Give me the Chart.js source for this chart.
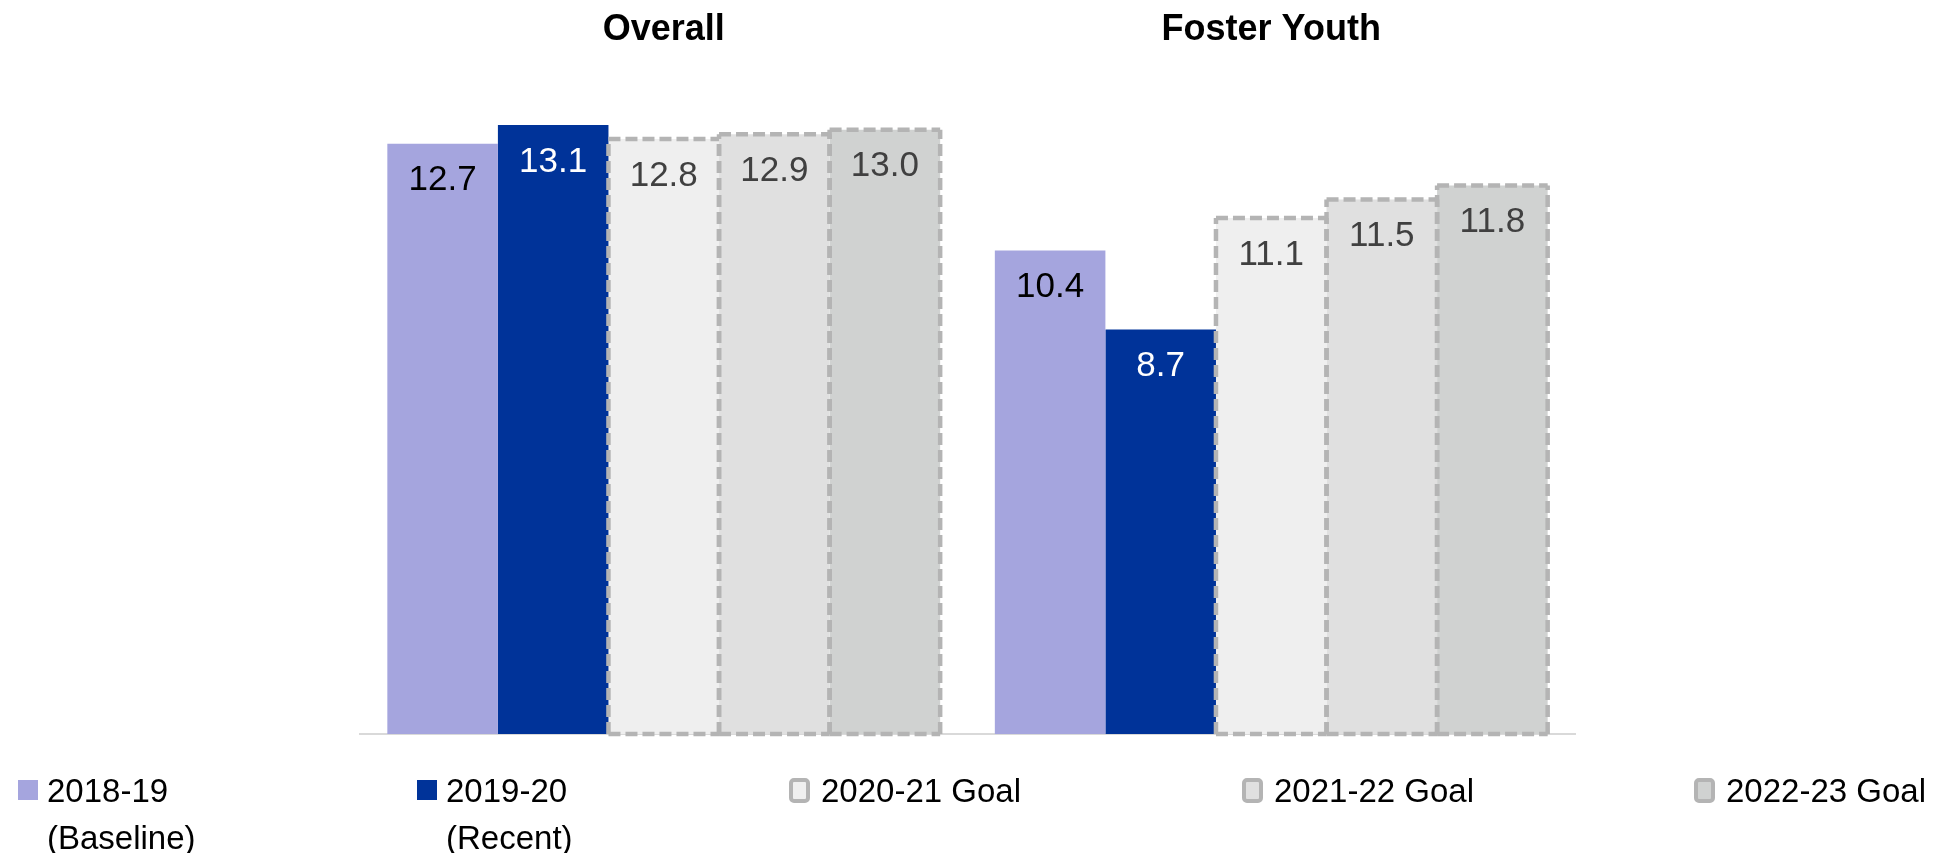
<!DOCTYPE html>
<html>
<head>
<meta charset="utf-8">
<script src="https://cdn.jsdelivr.net/npm/chart.js@4"></script>
<style>
  body { margin: 0; background: #fff; }
  #wrap { position: relative; width: 1944px; height: 853px; }
  .legend-item {
    position: absolute;
    font-family: "Liberation Sans", Arial, sans-serif;
    font-size: 33px;
    line-height: 47px;
    color: #000;
    white-space: pre;
  }
  .legend-box { position: absolute; box-sizing: border-box; }
</style>
</head>
<body>
<div id="wrap">
  <canvas id="goalChart"></canvas>
</div>
<script>
const categories = ["Overall", "Foster Youth"];
const seriesLabels = ["2018-19\n(Baseline)", "2019-20\n(Recent)", "2020-21 Goal", "2021-22 Goal", "2022-23 Goal"];
const baseline = [12.7, 10.4];
const recent = [13.1, 8.7];
const goal2021 = [12.8, 11.1];
const goal2122 = [12.9, 11.5];
const goal2223 = [13.0, 11.8];

const fills = ["#A5A5DE", "#003399", "#EFEFEF", "#E0E0E0", "#D0D2D1"];
const labelColors = ["#000000", "#FFFFFF", "#404040", "#404040", "#404040"];
const isGoal = [false, false, true, true, true];

// dashed outline for the goal bars (bar element has no borderDash)
// sides are drawn from the base up so neighbouring edges keep the same dash phase
const dashedBorders = {
  id: "dashedBorders",
  afterDatasetsDraw(chart) {
    const ctx = chart.ctx;
    ctx.save();
    ctx.setLineDash([12, 5]);
    ctx.lineWidth = 4.5;
    ctx.strokeStyle = "#B4B4B4";
    chart.data.datasets.forEach((ds, i) => {
      if (!isGoal[i]) return;
      chart.getDatasetMeta(i).data.forEach((bar) => {
        const { x, y, base, width } = bar.getProps(["x", "y", "base", "width"], true);
        const l = x - width / 2;
        const r = x + width / 2;
        ctx.beginPath();
        ctx.moveTo(l, base);
        ctx.lineTo(l, y);
        ctx.stroke();
        ctx.beginPath();
        ctx.moveTo(r, base);
        ctx.lineTo(r, y);
        ctx.stroke();
        ctx.beginPath();
        ctx.moveTo(l, y);
        ctx.lineTo(r, y);
        ctx.stroke();
        ctx.beginPath();
        ctx.moveTo(l, base);
        ctx.lineTo(r, base);
        ctx.stroke();
      });
    });
    ctx.restore();
  },
};

// value labels just inside the top of each bar
const valueLabels = {
  id: "valueLabels",
  afterDatasetsDraw(chart) {
    const ctx = chart.ctx;
    ctx.save();
    ctx.font = '35px "Liberation Sans", Arial, sans-serif';
    ctx.textAlign = "center";
    ctx.textBaseline = "middle";
    chart.data.datasets.forEach((ds, i) => {
      ctx.fillStyle = labelColors[i];
      chart.getDatasetMeta(i).data.forEach((bar, j) => {
        ctx.fillText(ds.data[j].toFixed(1), bar.x, bar.y + 37);
      });
    });
    ctx.restore();
  },
};

const seriesData = [baseline, recent, goal2021, goal2122, goal2223];

const chart = new Chart(document.getElementById("goalChart"), {
  type: "bar",
  data: {
    labels: categories,
    datasets: seriesData.map((d, i) => ({
      label: seriesLabels[i],
      data: d,
      backgroundColor: fills[i],
      borderWidth: 0,
      xAxisID: "x",
    })),
  },
  options: {
    responsive: true,
    maintainAspectRatio: false,
    animation: false,
    categoryPercentage: 0.91,
    barPercentage: 1.0,
    layout: { padding: { left: 360, right: 369, top: 0, bottom: 119 } },
    plugins: {
      legend: { display: false },
      tooltip: { enabled: false },
    },
    scales: {
      x: {
        position: "bottom",
        grid: { display: false, drawTicks: false },
        border: { display: true, color: "#D9D9D9", width: 2 },
        ticks: { display: false },
      },
      xTop: {
        type: "category",
        position: "top",
        grid: { display: false, drawTicks: false },
        border: { display: false },
        ticks: {
          color: "#000",
          padding: 8.4,
          font: { family: '"Liberation Sans", Arial, sans-serif', size: 36, weight: "bold", lineHeight: 1.2 },
        },
      },
      y: { display: false, min: 0, max: 14.5 },
    },
  },
  plugins: [dashedBorders, valueLabels],
});

// html legend built from the datasets
const legendPos = [18, 417, 789, 1242, 1694];
const wrap = document.getElementById("wrap");
chart.data.datasets.forEach((ds, i) => {
  const box = document.createElement("div");
  box.className = "legend-box";
  box.style.background = fills[i];
  box.style.left = legendPos[i] + "px";
  if (isGoal[i]) {
    box.style.top = "778px";
    box.style.width = "21px";
    box.style.height = "25px";
    box.style.border = "4px solid #B4B4B4";
    box.style.borderRadius = "5px";
  } else {
    box.style.top = "780px";
    box.style.width = "20px";
    box.style.height = "20px";
  }
  wrap.appendChild(box);

  const txt = document.createElement("div");
  txt.className = "legend-item";
  txt.style.left = legendPos[i] + (isGoal[i] ? 32 : 29) + "px";
  txt.style.top = "767px";
  txt.textContent = ds.label;
  wrap.appendChild(txt);
});
</script>
</body>
</html>
